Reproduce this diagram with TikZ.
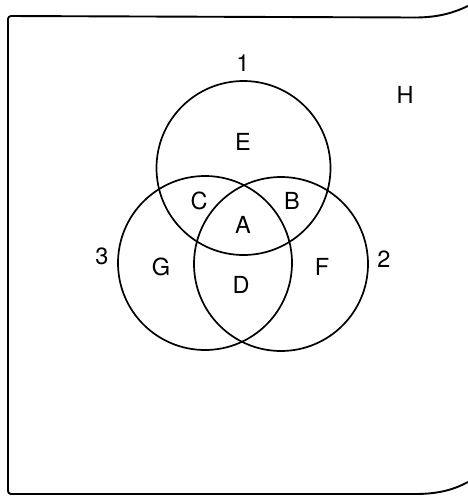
\documentclass[tikz,border=0pt]{standalone}
\usepackage{fontspec}
\setmainfont{TeX Gyre Heros}
\begin{document}
\begin{tikzpicture}[x=1pt,y=-1pt,
  venn/.style={circle,draw,line width=1.7pt,minimum size=174pt,inner sep=0pt},
  lbl/.style={inner sep=0pt,font=\fontsize{23.5}{24}\selectfont},
  frame/.style={line width=1.9pt}]
\useasboundingbox (0,0) rectangle (468,496);
% frame
\draw[frame,rounded corners=3pt] (415,17.5) -- (8,16) -- (8,494) -- (415,494);
\draw[frame] (415,17.5) .. controls (440,17.5) and (455,12) .. (468,6);
\draw[frame] (415,494) .. controls (440,494) and (455,489) .. (468,482);
% circles
\node[venn] (c1) at (243.5,168) {};
\node[venn] (c3) at (205,263) {};
\node[venn] (c2) at (281,264) {};
% labels
\node[lbl] (n1) at (243,63) {1};
\node[lbl] (n2) at (384,259) {2};
\node[lbl] (n3) at (102,256) {3};
\node[lbl] (h) at (405,95) {H};
\node[lbl] (e) at (243,142) {E};
\node[lbl] (c) at (199,201) {C};
\node[lbl] (b) at (292,201) {B};
\node[lbl] (a) at (243,225) {A};
\node[lbl] (g) at (161,267) {G};
\node[lbl] (d) at (241,285) {D};
\node[lbl] (f) at (322,267) {F};
\end{tikzpicture}
\end{document}
